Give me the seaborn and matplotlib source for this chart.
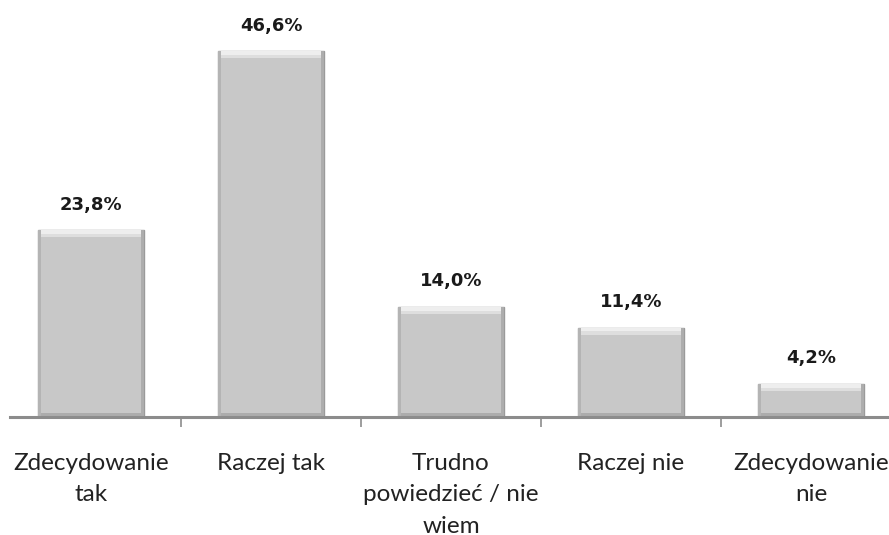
import matplotlib
matplotlib.use("Agg")
import matplotlib.pyplot as plt
import seaborn as sns
import pandas as pd

categories = ["Zdecydowanie\ntak", "Raczej tak", "Trudno\npowiedzieć / nie\nwiem", "Raczej nie", "Zdecydowanie\nnie"]
values = [23.8, 46.6, 14.0, 11.4, 4.2]
value_labels = ["23,8%", "46,6%", "14,0%", "11,4%", "4,2%"]

sns.set_theme(style="white")
plt.rcParams['font.family'] = ['Lato', 'DejaVu Sans']

W, H = 889, 535
fig = plt.figure(figsize=(W / 100, H / 100), dpi=100)
ax_left, ax_right = 10, 889
ax_bottom_px = 417
ax_top_px = 25
ax = fig.add_axes([ax_left / W, (H - ax_bottom_px) / H, (ax_right - ax_left) / W, (ax_bottom_px - ax_top_px) / H])

df = pd.DataFrame({"cat": categories, "val": values})
sns.barplot(data=df, x="cat", y="val", ax=ax, color="#c8c8c8", width=106 / 180,
            edgecolor="#9a9a9a", linewidth=1.0, saturation=1)

# bevel effect derived from each bar's geometry
for p in ax.patches:
    x0, w, h = p.get_x(), p.get_width(), p.get_height()
    z = p.get_zorder() + 0.1
    ax.add_patch(plt.Rectangle((x0, h - 0.9), w, 0.9, color="#dedede", zorder=z, lw=0))
    ax.add_patch(plt.Rectangle((x0, h - 0.45), w, 0.45, color="#eeeeee", zorder=z, lw=0))
    ax.add_patch(plt.Rectangle((x0, 0), w, 0.5, color="#acacac", zorder=z, lw=0))
    ax.add_patch(plt.Rectangle((x0, 0), w * 0.03, h, color="#b4b4b4", zorder=z, lw=0))
    ax.add_patch(plt.Rectangle((x0 + w * 0.97, 0), w * 0.03, h, color="#adadad", zorder=z, lw=0))

for i, (v, lab) in enumerate(zip(values, value_labels)):
    ax.annotate(lab, (i, v), xytext=(0, 12), textcoords="offset points", ha="center", va="bottom",
                fontsize=13, fontweight="bold", color="#1a1a1a", family=['DejaVu Sans'])

xpx = lambda px: (px - 91) / 180
ax.set_xlim(xpx(ax_left), xpx(ax_right))
ax.set_ylim(0, (ax_bottom_px - ax_top_px) / 7.85)

ax.set_xticks(range(len(categories)))
ax.set_xticklabels(categories, fontsize=17.5, color="#222222", linespacing=1.6, va="top")
ax.tick_params(axis="x", length=0, pad=26)
ax.set_xticks([0.5, 1.5, 2.5, 3.5], minor=True)
ax.tick_params(axis="x", which="minor", length=7, width=1.2, color="#8c8c8c", direction="out", bottom=True)
ax.set_yticks([])
ax.set_xlabel("")
ax.set_ylabel("")
for s in ["top", "right", "left"]:
    ax.spines[s].set_visible(False)
ax.spines["bottom"].set_color("#8c8c8c")
ax.spines["bottom"].set_linewidth(2.2)

fig.savefig("out.png", dpi=100)
